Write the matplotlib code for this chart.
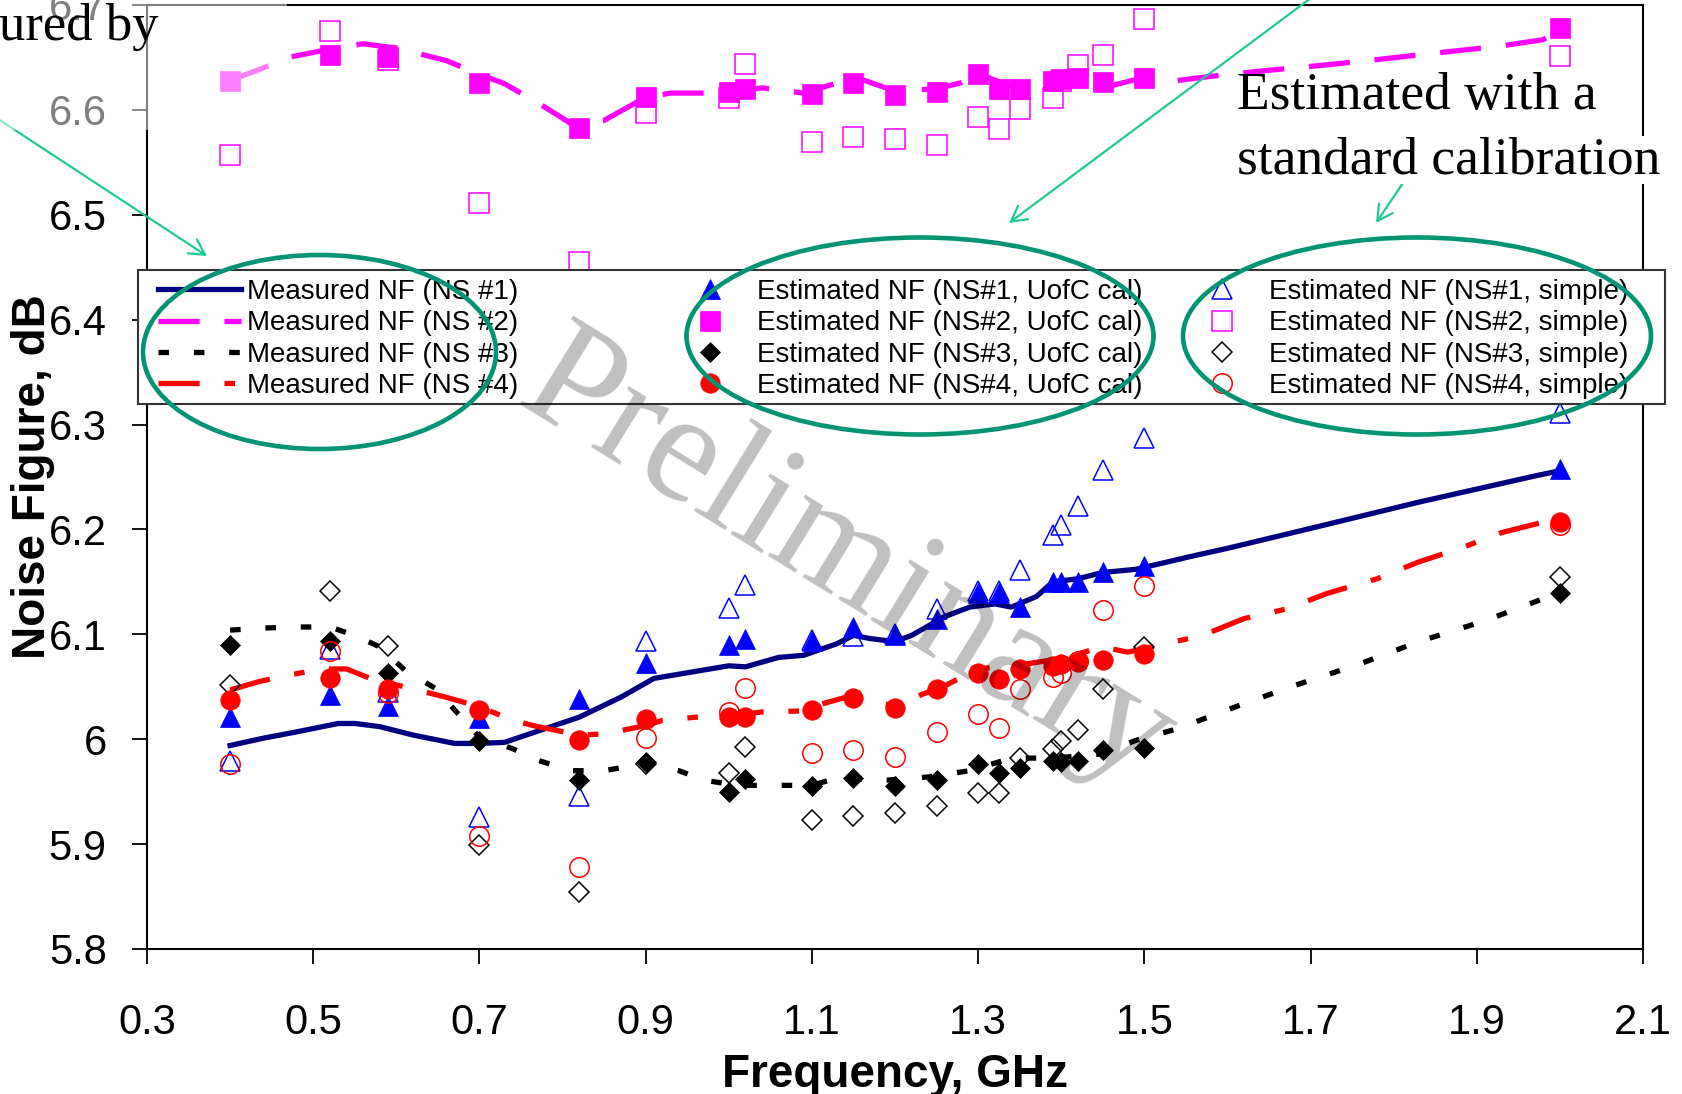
import matplotlib.pyplot as plt
from matplotlib.patches import Ellipse, Rectangle, FancyArrowPatch

plt.rcParams['font.family'] = ['Liberation Sans', 'DejaVu Sans']

# frequencies of the estimated points, GHz
freq = [0.4, 0.52, 0.59, 0.7, 0.82, 0.9, 1.0, 1.02, 1.1, 1.15, 1.2, 1.25,
        1.3, 1.325, 1.35, 1.39, 1.4, 1.42, 1.45, 1.5, 2.0]

# estimated NF with the UofC calibration (filled markers)
ucal_1 = [6.021, 6.042, 6.032, 6.020, 6.038, 6.073, 6.090, 6.096, 6.094, 6.107, 6.099,
          6.115, 6.139, 6.139, 6.126, 6.150, 6.150, 6.150, 6.159, 6.165, 6.258]
ucal_2 = [6.628, 6.652, 6.650, 6.626, 6.583, 6.612, 6.617, 6.620, 6.615, 6.626, 6.614,
          6.617, 6.634, 6.620, 6.620, 6.628, 6.629, 6.630, 6.627, 6.630, 6.678]
ucal_3 = [6.090, 6.094, 6.063, 5.998, 5.961, 5.978, 5.950, 5.962, 5.955, 5.963, 5.955,
          5.961, 5.976, 5.968, 5.973, 5.979, 5.978, 5.979, 5.990, 5.992, 6.139]
ucal_4 = [6.037, 6.058, 6.048, 6.028, 5.999, 6.019, 6.021, 6.021, 6.028, 6.039, 6.030,
          6.048, 6.063, 6.057, 6.067, 6.070, 6.072, 6.074, 6.076, 6.081, 6.207]

# estimated NF with the simple (standard) calibration (open markers)
simple_1 = [5.979, 6.086, 6.045, 5.926, 5.946, 6.094, 6.125, 6.147, 6.095, 6.098, 6.100,
            6.124, 6.141, 6.141, 6.161, 6.195, 6.204, 6.222, 6.257, 6.287, 6.311]
simple_2 = [6.557, 6.675, 6.648, 6.511, 6.455, 6.597, 6.611, 6.644, 6.569, 6.574, 6.572,
            6.567, 6.593, 6.582, 6.601, 6.611, 6.628, 6.643, 6.652, 6.687, 6.651]
simple_3 = [6.052, 6.141, 6.089, 5.899, 5.854, 5.976, 5.968, 5.993, 5.923, 5.927, 5.930,
            5.936, 5.949, 5.949, 5.982, 5.991, 5.998, 6.009, 6.048, 6.088, 6.155]
simple_4 = [5.976, 6.084, 6.044, 5.908, 5.878, 6.001, 6.026, 6.049, 5.987, 5.990, 5.983,
            6.007, 6.024, 6.011, 6.048, 6.059, 6.063, 6.075, 6.123, 6.146, 6.204]

# measured NF curves
meas_f_1 = [0.40, 0.44, 0.48, 0.53, 0.55, 0.58, 0.62, 0.67, 0.70, 0.73, 0.76, 0.82, 0.87,
            0.91, 0.97, 1.00, 1.02, 1.06, 1.09, 1.13, 1.15, 1.17, 1.20, 1.22, 1.26, 1.29,
            1.32, 1.34, 1.37, 1.39, 1.42, 1.45, 1.49, 1.56, 1.60, 1.70, 1.83, 1.97, 2.00]
meas_nf_1 = [5.994, 6.001, 6.007, 6.015, 6.015, 6.012, 6.004, 5.996, 5.996, 5.997, 6.005,
             6.021, 6.040, 6.058, 6.066, 6.070, 6.069, 6.078, 6.080, 6.091, 6.099, 6.096,
             6.093, 6.099, 6.117, 6.126, 6.129, 6.126, 6.136, 6.150, 6.153, 6.159, 6.162,
             6.175, 6.182, 6.201, 6.226, 6.251, 6.256]
meas_f_2 = [0.40, 0.44, 0.47, 0.52, 0.56, 0.60, 0.63, 0.66, 0.70, 0.73, 0.77, 0.81, 0.85,
            0.90, 0.93, 1.00, 1.04, 1.09, 1.14, 1.16, 1.20, 1.25, 1.28, 1.30, 1.33, 1.36,
            1.41, 1.46, 1.50, 1.54, 1.58, 1.64, 1.72, 1.78, 1.86, 1.93, 1.98, 2.00]
meas_nf_2 = [6.628, 6.640, 6.650, 6.658, 6.663, 6.659, 6.653, 6.647, 6.634, 6.625, 6.607,
             6.587, 6.590, 6.612, 6.616, 6.616, 6.621, 6.616, 6.628, 6.629, 6.618, 6.620,
             6.626, 6.635, 6.625, 6.621, 6.628, 6.623, 6.631, 6.628, 6.632, 6.637, 6.643,
             6.648, 6.655, 6.661, 6.667, 6.677]
meas_f_3 = [0.40, 0.44, 0.48, 0.52, 0.55, 0.58, 0.61, 0.65, 0.67, 0.70, 0.74, 0.77, 0.81,
            0.85, 0.90, 0.94, 0.97, 1.01, 1.05, 1.10, 1.13, 1.19, 1.24, 1.29, 1.34, 1.39,
            1.45, 1.49, 1.54, 1.61, 1.68, 1.76, 1.83, 1.91, 1.98, 2.00]
meas_nf_3 = [6.104, 6.106, 6.107, 6.107, 6.099, 6.088, 6.066, 6.047, 6.028, 6.002, 5.991,
             5.980, 5.970, 5.970, 5.977, 5.970, 5.961, 5.956, 5.956, 5.956, 5.963, 5.961,
             5.964, 5.970, 5.982, 5.982, 5.986, 5.999, 6.010, 6.031, 6.051, 6.072, 6.093,
             6.113, 6.134, 6.139]
meas_f_4 = [0.40, 0.435, 0.47, 0.51, 0.54, 0.575, 0.61, 0.66, 0.70, 0.74, 0.77, 0.82, 0.85,
            0.90, 0.92, 0.96, 1.00, 1.04, 1.09, 1.10, 1.15, 1.17, 1.20, 1.23, 1.26, 1.30,
            1.36, 1.40, 1.45, 1.48, 1.52, 1.57, 1.62, 1.67, 1.72, 1.78, 1.83, 1.88, 1.93,
            1.99, 2.00]
meas_nf_4 = [6.047, 6.055, 6.061, 6.067, 6.067, 6.056, 6.050, 6.040, 6.031, 6.018, 6.012,
             6.004, 6.005, 6.013, 6.018, 6.021, 6.022, 6.026, 6.027, 6.031, 6.042, 6.036,
             6.032, 6.042, 6.051, 6.067, 6.072, 6.077, 6.088, 6.083, 6.090, 6.099, 6.115,
             6.124, 6.139, 6.153, 6.169, 6.182, 6.197, 6.209, 6.210]

W, H = 1683, 1094
fig = plt.figure(figsize=(W / 100, H / 100), dpi=100)
ax = fig.add_axes([147 / W, 1 - 949 / H, 1496 / W, 944 / H])

lw = 3.8
l1, = ax.plot(meas_f_1, meas_nf_1, color='#000080', lw=lw, label='Measured NF (NS #1)')
l2, = ax.plot(meas_f_2, meas_nf_2, color='#ff00ff', lw=lw, dashes=(7.8, 4.7),
              label='Measured NF (NS #2)')
l3, = ax.plot(meas_f_3, meas_nf_3, color='black', lw=lw, dashes=(2.0, 4.7),
              label='Measured NF (NS #3)')
l4, = ax.plot(meas_f_4, meas_nf_4, color='#ff0000', lw=lw, dashes=(7.8, 4.7, 2.0, 4.7),
              label='Measured NF (NS #4)')

colors = ['#0000ff', '#ff00ff', 'black', '#ff0000']
markers = ['^', 's', 'D', 'o']
sizes = [14, 14, 10, 14]
ucal = [ucal_1, ucal_2, ucal_3, ucal_4]
simple = [simple_1, simple_2, simple_3, simple_4]

filled, opened = [], []
for k in range(4):
    h, = ax.plot(freq, ucal[k], ls='none', marker=markers[k], ms=sizes[k],
                 color=colors[k], mec=colors[k], mew=0.5, zorder=4,
                 label='Estimated NF (NS#%d, UofC cal)' % (k + 1))
    filled.append(h)
    h, = ax.plot(freq, simple[k], ls='none', marker=markers[k], ms=sizes[k],
                 mfc='none', mec=colors[k], mew=1.1, zorder=4,
                 label='Estimated NF (NS#%d, simple)' % (k + 1))
    opened.append(h)

ax.set_xlim(0.3, 2.1)
ax.set_ylim(5.8, 6.7)
ax.set_xticks([0.3, 0.5, 0.7, 0.9, 1.1, 1.3, 1.5, 1.7, 1.9, 2.1])
ax.set_yticks([5.8, 5.9, 6.0, 6.1, 6.2, 6.3, 6.4, 6.5, 6.6, 6.7])
ax.set_yticklabels(['5.8', '5.9', '6', '6.1', '6.2', '6.3', '6.4', '6.5', '6.6', '6.7'])
ax.tick_params(direction='out', length=11, width=1.3, labelsize=30)
ax.tick_params(axis='x', pad=28)
ax.tick_params(axis='y', pad=18)
for s in ax.spines.values():
    s.set_linewidth(1.5)

ax.set_xlabel('Frequency, GHz', fontsize=33, fontweight='bold')
ax.set_ylabel('Noise Figure, dB', fontsize=33, fontweight='bold')
ax.xaxis.set_label_coords(0.5, -0.110)
ax.yaxis.set_label_coords(-0.0615, 0.5)

# legend: one box, three columns
fig.add_artist(Rectangle((138 / W, 1 - 404 / H), 1527 / W, 134 / H, transform=fig.transFigure,
                         fc='white', ec='#333333', lw=1.5, zorder=4))
leg_kw = dict(loc='upper left', frameon=False, fontsize=20, handlelength=3.0,
              handletextpad=0.22, labelspacing=0.19, borderpad=0, borderaxespad=0)
for x0, hs in [(158, [l1, l2, l3, l4]), (668, filled), (1180, opened)]:
    lg = fig.legend(handles=hs, labels=[h.get_label() for h in hs],
                    bbox_to_anchor=(x0 / W, 1 - 279 / H), **leg_kw)
    lg.set_zorder(5)

# annotations
for cx, cy, w, h in [(319.5, 352, 353, 194), (920, 336, 467, 197), (1417, 336, 468, 197)]:
    fig.add_artist(Ellipse((cx / W, 1 - cy / H), w / W, h / H, transform=fig.transFigure,
                           fill=False, ec='#009473', lw=3.3, zorder=6))
for (xa, ya), (xb, yb) in [((-5, 117), (207, 256)), ((1315, -5), (1009, 223)),
                           ((1407, 177), (1376, 223))]:
    fig.add_artist(FancyArrowPatch((xa / W, 1 - ya / H), (xb / W, 1 - yb / H),
                                   transform=fig.transFigure, color='#20c997', lw=1.6,
                                   arrowstyle='->,head_length=0.55,head_width=0.3',
                                   mutation_scale=20, shrinkA=0, shrinkB=0, zorder=6))

fig.text(1237 / W, 1 - 109 / H, 'Estimated with a', fontsize=38.5, family='Liberation Serif',
         va='baseline', ha='left', zorder=6)
fig.text(1237 / W, 1 - 173 / H, 'standard calibration', fontsize=38.5,
         family='Liberation Serif', va='baseline', ha='left', zorder=6,
         bbox=dict(fc='white', ec='none', pad=0))

fig.text(0.5027, 0.4854, 'Preliminary', rotation=-31.6, rotation_mode='anchor', ha='center',
         va='center', fontsize=112, family='Liberation Serif', color='black', alpha=0.25,
         zorder=7)

# faded corner left by the slide text box
fig.add_artist(Rectangle((0, 1 - 130 / H), 287 / W, 130 / H, transform=fig.transFigure,
                         fc='white', ec='none', alpha=0.5, zorder=8))
fig.text(159 / W, 1 - 40 / H, 'ured by', fontsize=38, family='Liberation Serif',
         ha='right', va='baseline', zorder=9)

fig.savefig('out.png', dpi=100)
